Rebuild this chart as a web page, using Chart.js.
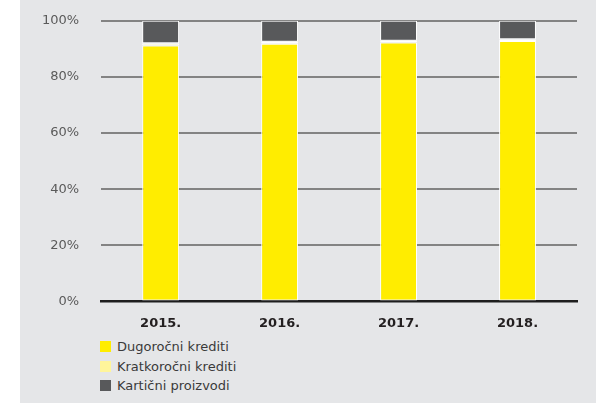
<!DOCTYPE html>
<html>
<head>
<meta charset="utf-8">
<script src="https://cdn.jsdelivr.net/npm/chart.js@4"></script>
<style>
  body { margin: 0; background: #fff; width: 606px; height: 404px; overflow: hidden; }
  #panel { position: absolute; left: 20px; top: 0; width: 576px; height: 403px; background: #e5e6e8; overflow: hidden; }
  #wrap { position: absolute; left: 0; top: -9px; width: 576px; height: 346px; }
  #legend { position: absolute; left: 80px; top: 337px; font-family: "DejaVu Sans", sans-serif; font-size: 13px; color: #3a3a3a; }
  .row { height: 19.5px; display: flex; align-items: center; }
  .box { width: 11px; height: 11px; margin-right: 6px; }
</style>
</head>
<body>
<div id="panel">
  <div id="wrap"><canvas id="chart"></canvas></div>
  <div id="legend"></div>
</div>
<script>
// godine
const godine = ["2015.", "2016.", "2017.", "2018."];

// udio u % (procjena s grafa)
const dugorocni = [91.2, 91.8, 92.3, 92.8];
const kratkorocni = [0.8, 0.7, 0.6, 0.6];
const karticni = [8.0, 7.5, 7.1, 6.6];

const yTicks = [0, 20, 40, 60, 80, 100];

const serije = [
  { label: "Dugoročni krediti", data: dugorocni, color: "#ffed00" },
  { label: "Kratkoročni krediti", data: kratkorocni, color: "#fff59b" },
  { label: "Kartični proizvodi", data: karticni, color: "#58595b" },
];

const chart = new Chart(document.getElementById("chart"), {
  type: "bar",
  data: {
    labels: godine,
    datasets: serije.map((s) => ({
      label: s.label,
      data: s.data,
      backgroundColor: s.color,
      borderColor: "#ffffff",
      borderWidth: 1,
      borderSkipped: false,
      barPercentage: 1,
      categoryPercentage: 0.31,
    })),
  },
  options: {
    responsive: true,
    maintainAspectRatio: false,
    animation: false,
    layout: { padding: { top: 4, right: 19, left: 0, bottom: 0 } },
    plugins: {
      legend: { display: false },
      tooltip: { enabled: false },
    },
    scales: {
      x: {
        stacked: true,
        grid: { display: false },
        border: { color: "#1e1e1e", width: 2.5 },
        ticks: {
          color: "#231f20",
          padding: 6,
          font: { family: "DejaVu Sans", size: 13, weight: "bold" },
        },
      },
      y: {
        stacked: true,
        min: 0,
        max: 100,
        afterBuildTicks: (axis) => {
          axis.ticks = yTicks.map((v) => ({ value: v }));
        },
        border: { display: false },
        grid: { color: "#838383", lineWidth: 2, drawTicks: false },
        ticks: {
          color: "#5a5a5a",
          padding: 22,
          font: { family: "DejaVu Sans", size: 13 },
          callback: (v) => v + "%",
        },
      },
    },
  },
});

// legenda ispod grafa
document.getElementById("legend").innerHTML = serije
  .map(
    (s) => `
    <div class="row"><span class="box" style="background:${s.color}"></span>${s.label}</div>`
  )
  .join("");
</script>
</body>
</html>
